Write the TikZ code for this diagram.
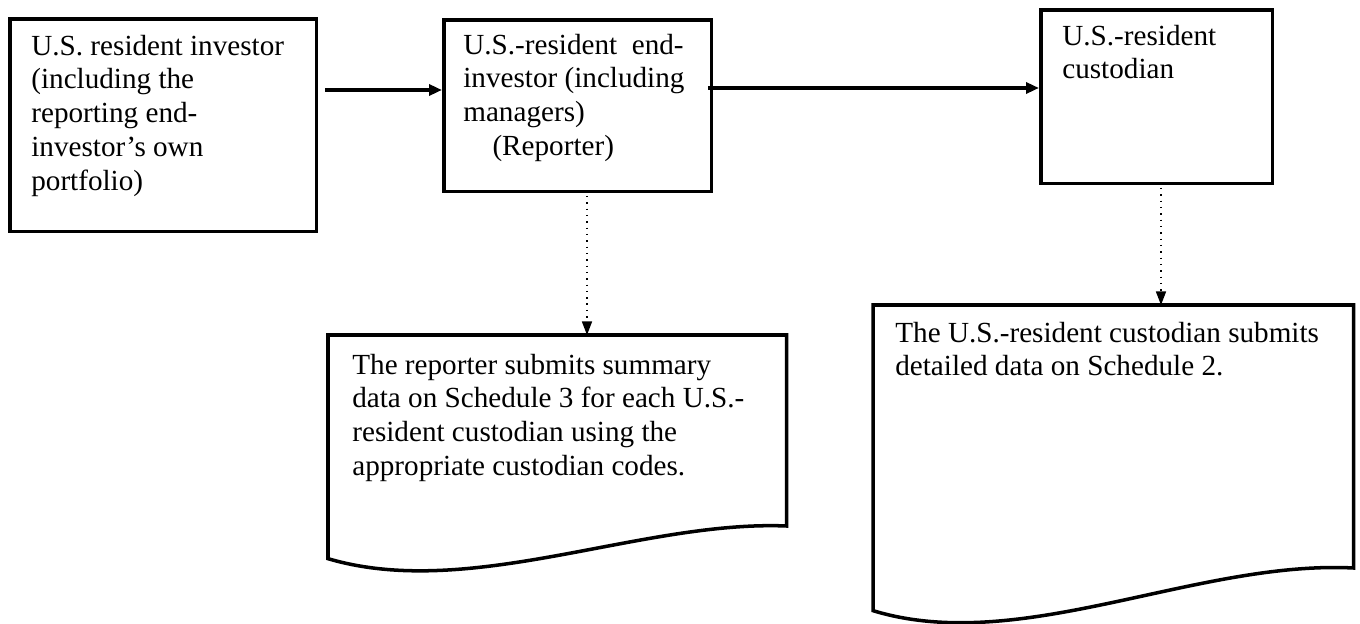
\documentclass[tikz,border=0pt]{standalone}
\usepackage{fontspec}
\setmainfont{Liberation Serif}
\usetikzlibrary{arrows.meta}
\newcommand{\diagfont}{\fontsize{16.6pt}{19.3pt}\selectfont}

\begin{document}
\begin{tikzpicture}[x=0.02cm,y=-0.02cm,
	box/.style={draw,line width=2pt,anchor=north west,inner sep=0pt},
	doc/.style={anchor=north west,inner sep=0pt},
	txt/.style={anchor=north west,inner sep=0pt,align=left,font=\diagfont},
	flow/.style={line width=2pt,-{Triangle[length=0.26cm,width=0.22cm]}},
	dots/.style={line width=0.8pt,dash pattern=on 0.8pt off 2.8pt,-{Triangle[length=0.27cm,width=0.2cm]}}]
	\useasboundingbox (0,0) rectangle (1360,624);
	% Boxes on the top row
	\node[box,minimum width=6.14cm,minimum height=4.26cm] (inv) at (8,17) {};
	\node[box,minimum width=5.36cm,minimum height=3.44cm] (rep) at (442,18) {};
	\node[box,minimum width=4.64cm,minimum height=3.48cm] (cus) at (1039,8) {};
	\node[txt] (invtxt) at (31,31) {\strut U.S. resident investor\\(including the\\reporting end-\\investor’s own\\portfolio)};
	\node[txt] (reptxt) at (463,30) {\strut U.S.-resident\ \ end-\\investor (including\\managers)\\\hspace*{1em}(Reporter)};
	\node[txt] (custxt) at (1062,21) {\strut U.S.-resident\\custodian};
	% Documents
	\node[doc,minimum width=9.16cm,minimum height=4.46cm] (sum) at (328,335) {};
	\node[doc,minimum width=9.6cm,minimum height=6.1cm] (det) at (873,305) {};
	\draw[line width=2pt] (sum.north west) -- (sum.north east) -- ++(0,191) .. controls +(-146,-6) and +(142,42) .. (sum.south west) -- cycle;
	\draw[line width=2pt] (det.north west) -- (det.north east) -- ++(0,263) .. controls +(-158,-8) and +(147,45) .. (det.south west) -- cycle;
	\node[txt] (sumtxt) at (352,350) {\strut The reporter submits summary\\data on Schedule 3 for each U.S.-\\resident custodian using the\\appropriate custodian codes.};
	\node[txt] (dettxt) at (895,318) {\strut The U.S.-resident custodian submits\\detailed data on Schedule 2.};
	% Arrows
	\draw[flow] ([xshift=0.14cm]inv.east |- 0,90) -- (rep.west |- 0,90);
	\draw[flow] ([xshift=-0.1cm]rep.east |- 0,88) -- (cus.west |- 0,88);
	\draw[dots] ([yshift=-0.05cm]rep.south -| 587,0) -- (sum.north -| 587,0);
	\draw[dots] ([yshift=-0.05cm]cus.south -| 1161,0) -- (det.north -| 1161,0);
\end{tikzpicture}
\end{document}
